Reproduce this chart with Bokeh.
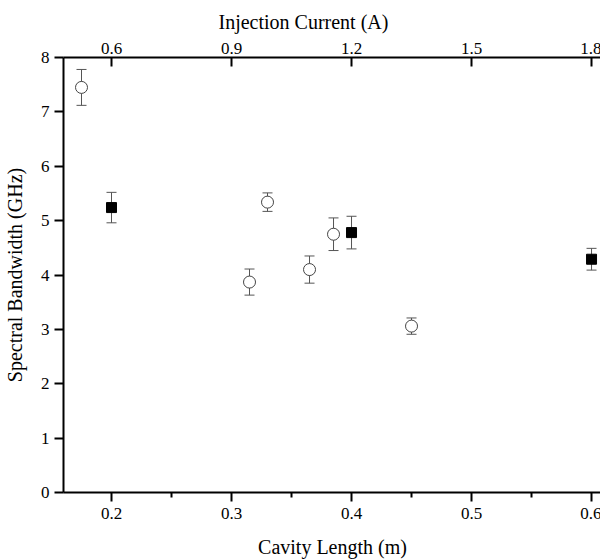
from bokeh.plotting import figure
from bokeh.models import (ColumnDataSource, Whisker, TeeHead, LinearAxis,
                          Range1d, FixedTicker, Title)
from bokeh.embed import file_html
from bokeh.resources import INLINE

# ---- data ----
len_sq = [0.2, 0.4, 0.6]
bw_sq = [5.24, 4.78, 4.29]
err_sq = [0.28, 0.30, 0.20]

len_c = [0.175, 0.315, 0.33, 0.365, 0.385, 0.45]
bw_c = [7.45, 3.87, 5.34, 4.10, 4.75, 3.06]
err_c = [0.33, 0.24, 0.17, 0.25, 0.30, 0.15]

x_ticks = [0.2, 0.3, 0.4, 0.5, 0.6]
x_minor = [0.25, 0.35, 0.45, 0.55]
top_ticks = [0.6, 0.9, 1.2, 1.5, 1.8]
y_ticks = [0, 1, 2, 3, 4, 5, 6, 7, 8]
current_per_length = 3.0

FONT = "Liberation Serif"

x0, x1 = 0.16, 0.6083
p = figure(width=592, height=557, frame_width=538, frame_height=435,
           x_range=Range1d(x0, x1), y_range=Range1d(0, 8),
           output_backend="svg", toolbar_location=None,
           min_border_left=54, min_border_top=57, min_border_bottom=65,
           min_border_right=0)
p.outline_line_color = None
p.xgrid.visible = False
p.ygrid.visible = False
p.background_fill_color = "white"

p.extra_x_ranges = {"top": Range1d(x0 * current_per_length, x1 * current_per_length)}

src_sq = ColumnDataSource(dict(x=len_sq, y=bw_sq,
                               up=[b + e for b, e in zip(bw_sq, err_sq)],
                               lo=[b - e for b, e in zip(bw_sq, err_sq)]))
src_c = ColumnDataSource(dict(x=len_c, y=bw_c,
                              up=[b + e for b, e in zip(bw_c, err_c)],
                              lo=[b - e for b, e in zip(bw_c, err_c)]))

for src in (src_sq, src_c):
    w = Whisker(base="x", upper="up", lower="lo", source=src, dimension="height",
                line_color="#555555", line_width=1,
                upper_head=TeeHead(size=10, line_color="#555555", line_width=1),
                lower_head=TeeHead(size=10, line_color="#555555", line_width=1))
    w.level = "underlay"
    p.add_layout(w)

p.scatter("x", "y", source=src_c, marker="circle", size=12,
          fill_color="white", line_color="#444444", line_width=1)
p.scatter("x", "y", source=src_sq, marker="square", size=10,
          fill_color="black", line_color="black", line_width=1)

def style(ax, label):
    ax.axis_label = label
    ax.axis_label_text_font = FONT
    ax.axis_label_text_font_style = "normal"
    ax.axis_label_text_font_size = "20px"
    ax.axis_label_text_color = "black"
    ax.major_label_text_font = FONT
    ax.major_label_text_font_size = "17px"
    ax.major_label_text_color = "black"
    ax.axis_line_width = 2
    ax.axis_line_color = "black"
    ax.major_tick_line_width = 2
    ax.major_tick_line_color = "black"
    ax.minor_tick_line_width = 2
    ax.minor_tick_line_color = "black"

xb = p.xaxis[0]
style(xb, "Cavity Length (m)")
xb.ticker = FixedTicker(ticks=x_ticks, minor_ticks=x_minor)
xb.major_tick_in = 0
xb.major_tick_out = 9
xb.minor_tick_in = 0
xb.minor_tick_out = 5
xb.major_label_standoff = 6
xb.axis_label_standoff = 14

yl = p.yaxis[0]
style(yl, "Spectral Bandwidth (GHz)")
yl.ticker = FixedTicker(ticks=y_ticks, minor_ticks=[])
yl.major_tick_in = 0
yl.major_tick_out = 9
yl.minor_tick_out = 0
yl.minor_tick_in = 0
yl.major_label_standoff = 5
yl.axis_label_standoff = 12

xt = LinearAxis(x_range_name="top")
style(xt, None)
xt.ticker = FixedTicker(ticks=top_ticks, minor_ticks=[])
xt.major_tick_in = 9
xt.major_tick_out = 0
xt.minor_tick_in = 0
xt.minor_tick_out = 0
xt.major_label_standoff = 4
p.add_layout(xt, "above")

top_title = Title(text="Injection Current (A)", align="left", offset=155,
                  text_font=FONT, text_font_size="20px", text_font_style="normal",
                  text_color="black", standoff=13)
p.add_layout(top_title, "above")

open("out.html", "w").write(file_html(p, INLINE))
